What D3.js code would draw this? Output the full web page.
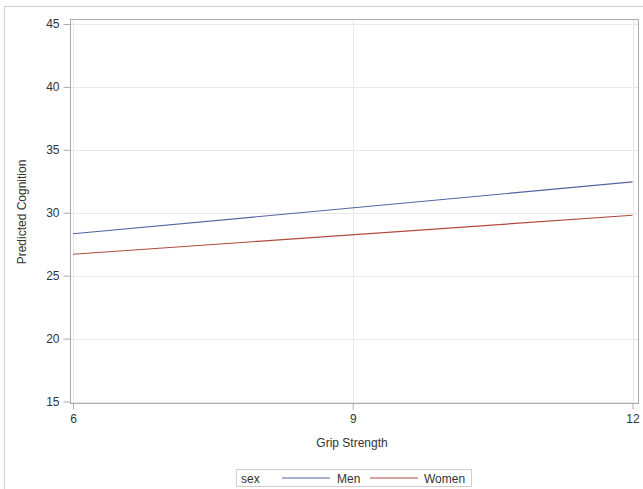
<!DOCTYPE html>
<html>
<head>
<meta charset="utf-8">
<script src="https://cdn.jsdelivr.net/npm/d3@7"></script>
<style>
  body { margin: 0; background: #fff; }
  text { font-family: "Liberation Sans", Arial, sans-serif; fill: #333; }
</style>
</head>
<body>
<div id="container"></div>
<script>
// data
const gripX = [6, 12]
const menPred = [28.33, 32.45]
const womenPred = [26.7, 29.8]
const xTicks = [6, 9, 12]
const yTicks = [15, 20, 25, 30, 35, 40, 45]
const seriesNames = ["Men", "Women"]
const colors = ["#5564a0", "#b04a3e"]

const width = 643, height = 489

const svg = d3.select("#container").append("svg")
  .attr("width", width).attr("height", height)

// outer border
svg.append("rect")
  .attr("x", 4.5).attr("y", 6.5).attr("width", 700).attr("height", 600)
  .attr("fill", "none").attr("stroke", "#cfcfcf")

const frame = {left: 70.5, top: 19.5, right: 638.5, bottom: 403.5}

const xScale = d3.scaleLinear().domain([6, 12]).range([73, 632.5])
const yScale = d3.scaleLinear().domain([15, 45]).range([401.5, 24])

// grid
svg.append("g").selectAll("line").data(yTicks).join("line")
  .attr("x1", frame.left).attr("x2", frame.right)
  .attr("y1", d => Math.round(yScale(d)) + 0.5).attr("y2", d => Math.round(yScale(d)) + 0.5)
  .attr("stroke", "#e8e8e8")
svg.append("g").selectAll("line").data(xTicks).join("line")
  .attr("y1", frame.top).attr("y2", frame.bottom)
  .attr("x1", d => Math.round(xScale(d)) + 0.5).attr("x2", d => Math.round(xScale(d)) + 0.5)
  .attr("stroke", "#e8e8e8")

// lines
const line = d3.line().x(d => xScale(d[0])).y(d => yScale(d[1]))
;[menPred, womenPred].forEach((vals, i) => {
  svg.append("path")
    .datum(gripX.map((g, j) => [g, vals[j]]))
    .attr("fill", "none")
    .attr("stroke", colors[i])
    .attr("stroke-width", 1.2)
    .attr("d", line)
})

// frame
svg.append("rect")
  .attr("x", frame.left).attr("y", frame.top)
  .attr("width", frame.right - frame.left).attr("height", frame.bottom - frame.top)
  .attr("fill", "none").attr("stroke", "#a8acb0")

// y axis
const yAxis = svg.append("g")
  .attr("transform", `translate(${frame.left},0)`)
  .call(d3.axisLeft(yScale).tickValues(yTicks).tickSize(7).tickPadding(4))
yAxis.select(".domain").remove()
yAxis.selectAll("line").attr("stroke", "#a8acb0")
yAxis.selectAll("text").style("font-size", "12px").style("fill", "#333")
  .style("font-family", "Liberation Sans, Arial, sans-serif")

// x axis
const xAxis = svg.append("g")
  .attr("transform", `translate(0,${frame.bottom})`)
  .call(d3.axisBottom(xScale).tickValues(xTicks).tickFormat(d3.format("d")).tickSize(6).tickPadding(5))
xAxis.select(".domain").remove()
xAxis.selectAll("line").attr("stroke", "#a8acb0")
xAxis.selectAll("text").style("font-size", "12px").style("fill", "#333")
  .style("font-family", "Liberation Sans, Arial, sans-serif")

// axis labels
svg.append("text")
  .attr("x", 352).attr("y", 447)
  .attr("text-anchor", "middle")
  .style("font-size", "12px")
  .text("Grip Strength")

svg.append("text")
  .attr("transform", "translate(26,212) rotate(-90)")
  .attr("text-anchor", "middle")
  .style("font-size", "12px")
  .text("Predicted Cognition")

// legend
const lg = svg.append("g")
lg.append("rect")
  .attr("x", 236.5).attr("y", 469.5).attr("width", 235).attr("height", 17)
  .attr("fill", "none").attr("stroke", "#cfcfcf")
lg.append("text").attr("x", 241).attr("y", 482.5).style("font-size", "12px").text("sex")
const legX = [[282, 330, 337], [370, 418, 424]]
seriesNames.forEach((name, i) => {
  lg.append("line")
    .attr("x1", legX[i][0]).attr("x2", legX[i][1])
    .attr("y1", 478).attr("y2", 478)
    .attr("stroke", colors[i]).attr("stroke-width", 1.2)
  lg.append("text").attr("x", legX[i][2]).attr("y", 482.5)
    .style("font-size", "12px").text(name)
})
</script>
</body>
</html>
